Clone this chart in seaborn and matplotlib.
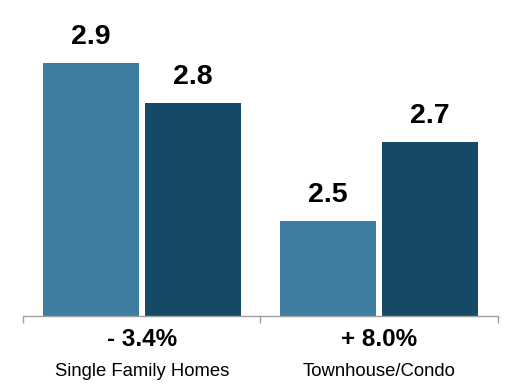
import matplotlib
matplotlib.use("Agg")
import matplotlib.pyplot as plt
import matplotlib.transforms as mtransforms
import seaborn as sns
import pandas as pd

categories = ["Single Family Homes", "Townhouse/Condo"]
changes = ["- 3.4%", "+ 8.0%"]
series = ["Prior Year", "Current Year"]
prior_values = [2.9, 2.5]
current_values = [2.8, 2.7]
colors = ["#3d7da0", "#164968"]

df = pd.DataFrame({
    "category": categories * 2,
    "series": [series[0]] * 2 + [series[1]] * 2,
    "value": prior_values + current_values,
})

sns.set_theme(style="white")
plt.rcParams["font.family"] = ["Liberation Sans", "DejaVu Sans"]

fig = plt.figure(figsize=(5.06, 3.84), dpi=100)
ax = fig.add_axes([23 / 506, (384 - 316) / 384, 475 / 506, 316 / 384])

sns.barplot(data=df, x="category", y="value", hue="series", order=categories,
            hue_order=series, palette=colors, width=0.859, gap=0.059,
            saturation=1, legend=False, ax=ax, edgecolor="none")

ax.set_ylim(2.26, 3.06)
ax.set_xlim(-0.5, 1.5)

# value labels above each bar
for cont in ax.containers:
    for bar in cont:
        h = bar.get_height()
        ax.annotate(f"{h:.1f}", (bar.get_x() + bar.get_width() / 2, h),
                    xytext=(0, 13.5), textcoords="offset points",
                    ha="center", va="baseline", fontsize=20.5, fontweight="bold",
                    color="black")

# axis styling
for s in ["left", "right", "top"]:
    ax.spines[s].set_visible(False)
ax.spines["bottom"].set_color("#a0a0a0")
ax.spines["bottom"].set_linewidth(1.0)
ax.set_yticks([])
ax.set_xticks([0, 1])
ax.set_xticklabels([])
ax.tick_params(axis="x", which="major", length=0)
ax.set_xticks([-0.5, 0.5, 1.5], minor=True)
ax.tick_params(axis="x", which="minor", length=5, width=1.0, color="#a0a0a0",
               direction="out", bottom=True)
ax.set_xlabel("")
ax.set_ylabel("")

# two-line category labels: change percentage + category name
trans = mtransforms.blended_transform_factory(ax.transData, fig.transFigure)
for i, (cat, chg) in enumerate(zip(categories, changes)):
    ax.text(i, 1 - 340 / 384, chg, transform=trans, ha="center", va="center",
            fontsize=17.5, fontweight="bold", color="black")
    ax.text(i, 1 - 372 / 384, cat, transform=trans, ha="center", va="center",
            fontsize=13.3, color="black")

fig.savefig("out.png", dpi=100)
